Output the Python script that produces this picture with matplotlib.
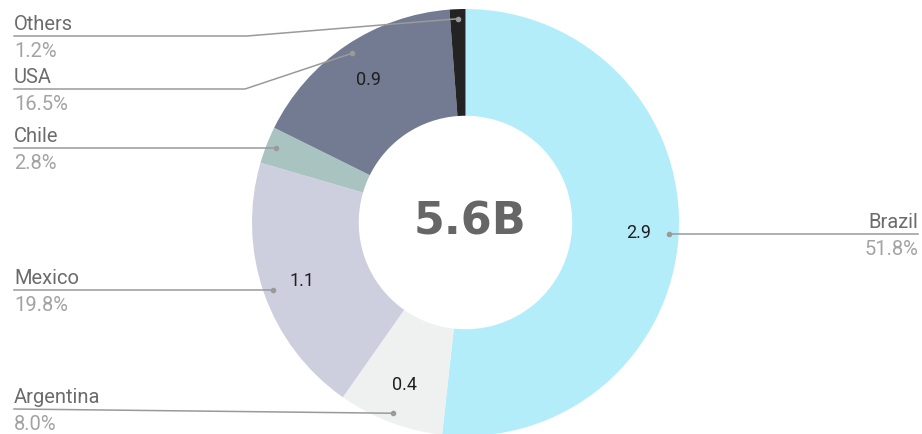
import matplotlib
matplotlib.use("Agg")
import matplotlib.pyplot as plt
import numpy as np

# Share of total (percent) and value in billions, clockwise from 12 o'clock
countries = ["Brazil", "Argentina", "Mexico", "Chile", "USA", "Others"]
shares = [51.8, 8.0, 19.8, 2.8, 16.5, 1.2]
values = [2.9, 0.4, 1.1, 0.16, 0.9, 0.07]
total_label = "5.6B"
show_value = [True, True, True, False, True, False]

colors = ["#b3edfa", "#eff1f1", "#cdcfde", "#a8c3c0", "#737b92", "#232323"]

# Label layout (pixel space, y measured from the top); None = level with the dot
label_side = ["right", "left", "left", "left", "left", "left"]
label_line_y = [None, 410, None, None, 90, 37]
label_elbow_x = [None, None, None, None, 245, 247]

W, H = 922, 435
fig = plt.figure(figsize=(W / 100, H / 100), dpi=100)
ax = fig.add_axes([0, 0, 1, 1])

cx, cy, R = 465.5, H - 223.5, 213.5
wedges, _ = ax.pie(shares, colors=colors, startangle=90, counterclock=False,
                   radius=R, center=(cx, cy),
                   wedgeprops=dict(width=R * 0.5, linewidth=0))
ax.set_xlim(0, W)
ax.set_ylim(0, H)
ax.set_aspect("equal")
ax.axis("off")

font = "Roboto"
line_col = "#9a9a9a"
name_col = "#6b6b6b"
pct_col = "#a3a3a3"

for w, name, pct, val, show, side, ly, ex in zip(
        wedges, countries, shares, values, show_value,
        label_side, label_line_y, label_elbow_x):
    mid = np.deg2rad((w.theta1 + w.theta2) / 2)
    ux, uy = np.cos(mid), np.sin(mid)
    if show:
        ax.text(cx + 0.81 * R * ux, cy + 0.81 * R * uy, f"{val:.1f}",
                ha="center", va="center", fontsize=13, color="#1f1f1f",
                family=font)
    dx, dy = cx + 0.955 * R * ux, cy + 0.955 * R * uy
    ax.plot([dx], [dy], "o", ms=3, color=line_col, zorder=5)
    Ly = dy if ly is None else H - ly
    if side == "right":
        xs, ys = [dx, 918], [Ly, Ly]
        tx, ha = 918, "right"
    else:
        if ex is None:
            xs, ys = [dx, 14], [dy, Ly]
        else:
            xs, ys = [dx, ex, 14], [dy, Ly, Ly]
        tx, ha = 14, "left"
    ax.plot(xs, ys, color=line_col, lw=1.1, zorder=4)
    ax.text(tx, Ly + 7, name, ha=ha, va="baseline", fontsize=14.5,
            color=name_col, family=font)
    ax.text(tx, Ly - 5, f"{pct:.1f}%", ha=ha, va="top", fontsize=14.5,
            color=pct_col, family=font)

ax.text(cx + 4, cy + 1, total_label, ha="center", va="center", fontsize=32,
        fontweight="bold", color="#666666", family="DejaVu Sans")

fig.savefig("out.png", dpi=100)
